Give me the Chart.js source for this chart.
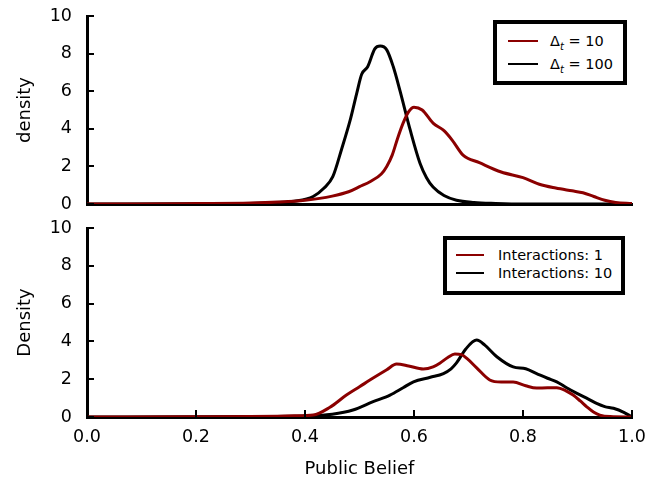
<!DOCTYPE html>
<html>
<head>
<meta charset="utf-8">
<script src="https://cdn.jsdelivr.net/npm/chart.js@4.4.1/dist/chart.umd.min.js"></script>
<style>
  body { margin: 0; background: #fff; font-family: "DejaVu Sans", sans-serif; }
  #wrap { position: relative; width: 665px; height: 482px; }
  canvas { position: absolute; left: 0; top: 0; }
  .legend { position: absolute; border: 4px solid #000; background: #fff; box-sizing: border-box; font-size: 14.5px; color: #000; }
  .row { position: absolute; left: 0; height: 20px; line-height: 20px; white-space: nowrap; }
  .swatch { position: absolute; top: 9px; height: 2px; }
  .lbl { position: absolute; top: 0; }
</style>
</head>
<body>
<div id="wrap">
  <canvas id="topChart" width="665" height="482"></canvas>
  <canvas id="bottomChart" width="665" height="482"></canvas>

  <div class="legend" style="left:493px; top:20px; width:134px; height:65px;">
    <div class="row" style="top:7px;"><span class="swatch" style="left:11px; width:30px; background:#8b0000;"></span><span class="lbl" style="left:53px;">Δ<sub style="font-size:10px; font-style:italic;">t</sub> = 10</span></div>
    <div class="row" style="top:30px;"><span class="swatch" style="left:11px; width:30px; background:#000;"></span><span class="lbl" style="left:53px;">Δ<sub style="font-size:10px; font-style:italic;">t</sub> = 100</span></div>
  </div>

  <div class="legend" style="left:443px; top:236px; width:182px; height:59px;">
    <div class="row" style="top:5px;"><span class="swatch" style="left:9px; width:28px; background:#8b0000;"></span><span class="lbl" style="left:51px;">Interactions: 1</span></div>
    <div class="row" style="top:23px;"><span class="swatch" style="left:9px; width:28px; background:#000;"></span><span class="lbl" style="left:51px;">Interactions: 10</span></div>
  </div>
</div>

<script>
// ---- data ----
const xTickValues = [0, 0.2, 0.4, 0.6, 0.8, 1.0];
const yTickValues = [0, 2, 4, 6, 8, 10];

// top panel: Δt = 10
const dt10X = [0, 0.1, 0.2, 0.3, 0.35, 0.4, 0.45, 0.48, 0.5, 0.52, 0.54, 0.55, 0.56, 0.57, 0.58, 0.59, 0.6, 0.615, 0.635, 0.655, 0.67, 0.69, 0.72, 0.76, 0.8, 0.83, 0.86, 0.89, 0.91, 0.93, 0.95, 0.97, 1.0];
const dt10Y = [0, 0, 0.02, 0.05, 0.1, 0.2, 0.42, 0.65, 0.92, 1.2, 1.6, 2.0, 2.6, 3.5, 4.3, 4.9, 5.15, 5.0, 4.3, 3.9, 3.4, 2.6, 2.2, 1.7, 1.4, 1.05, 0.85, 0.7, 0.6, 0.4, 0.2, 0.08, 0.02];

// top panel: Δt = 100
const dt100X = [0, 0.2, 0.3, 0.35, 0.38, 0.415, 0.435, 0.451, 0.467, 0.483, 0.495, 0.504, 0.515, 0.528, 0.538, 0.55, 0.562, 0.574, 0.593, 0.611, 0.623, 0.635, 0.655, 0.678, 0.71, 0.75, 0.8, 1.0];
const dt100Y = [0, 0.01, 0.03, 0.08, 0.15, 0.4, 0.85, 1.45, 2.9, 4.47, 5.9, 6.9, 7.3, 8.25, 8.4, 8.2, 7.3, 6.06, 3.94, 2.17, 1.4, 0.9, 0.45, 0.2, 0.08, 0.03, 0, 0];

// bottom panel: Interactions 1
const int1X = [0, 0.2, 0.3, 0.35, 0.38, 0.415, 0.445, 0.476, 0.5, 0.525, 0.55, 0.568, 0.59, 0.617, 0.635, 0.648, 0.662, 0.675, 0.687, 0.697, 0.715, 0.739, 0.76, 0.782, 0.805, 0.825, 0.845, 0.862, 0.878, 0.892, 0.905, 0.917, 0.93, 0.941, 0.96, 1.0];
const int1Y = [0, 0.01, 0.02, 0.04, 0.06, 0.1, 0.5, 1.16, 1.6, 2.06, 2.5, 2.8, 2.7, 2.54, 2.65, 2.86, 3.15, 3.33, 3.3, 3.1, 2.6, 1.96, 1.85, 1.85, 1.65, 1.53, 1.55, 1.55, 1.4, 1.16, 0.85, 0.54, 0.25, 0.1, 0.02, 0];

// bottom panel: Interactions 10
const int10X = [0, 0.2, 0.3, 0.4, 0.45, 0.488, 0.525, 0.556, 0.58, 0.599, 0.63, 0.654, 0.668, 0.678, 0.695, 0.715, 0.73, 0.752, 0.782, 0.805, 0.825, 0.845, 0.862, 0.88, 0.899, 0.92, 0.935, 0.95, 0.966, 0.985, 1.0];
const int10Y = [0, 0.01, 0.02, 0.05, 0.15, 0.37, 0.81, 1.16, 1.55, 1.86, 2.1, 2.3, 2.55, 2.86, 3.6, 4.07, 3.8, 3.19, 2.65, 2.55, 2.3, 2.05, 1.86, 1.55, 1.25, 0.95, 0.72, 0.55, 0.46, 0.25, 0];

const RED = "#8b0000";
const TICK_FONT = { family: "'DejaVu Sans', sans-serif", size: 17.5 };
const TITLE_FONT = { family: "'DejaVu Sans', sans-serif", size: 18 };

function pts(xs, ys) {
    return xs.map((x, i) => ({ x: x, y: ys[i] }));
}

function series(label, xs, ys, color) {
    return {
        label: label,
        data: pts(xs, ys),
        borderColor: color,
        borderWidth: 3,
        pointRadius: 0,
        cubicInterpolationMode: "monotone",
        fill: false
    };
}

// inward tick marks, drawn through the scales
const inwardTicks = {
    id: "inwardTicks",
    afterDraw(chart, args, opts) {
        const ctx = chart.ctx;
        const area = chart.chartArea;
        ctx.save();
        ctx.strokeStyle = "#000";
        ctx.lineWidth = 2;
        const ys = chart.scales.y;
        yTickValues.forEach(v => {
            const py = Math.round(ys.getPixelForValue(v));
            ctx.beginPath();
            ctx.moveTo(area.left, py);
            ctx.lineTo(area.left + 7, py);
            ctx.stroke();
        });
        if (opts.xTicks) {
            const xs = chart.scales.x;
            xTickValues.forEach(v => {
                const px = Math.round(xs.getPixelForValue(v));
                ctx.beginPath();
                ctx.moveTo(px, area.bottom);
                ctx.lineTo(px, area.bottom - 7);
                ctx.stroke();
            });
        }
        ctx.restore();
    }
};

function makeChart(canvasId, datasets, cfg) {
    const ctx = document.getElementById(canvasId).getContext("2d");
    return new Chart(ctx, {
        type: "line",
        data: { datasets: datasets },
        plugins: [inwardTicks],
        options: {
            responsive: false,
            animation: false,
            layout: { padding: { left: 0, right: 33, top: cfg.top, bottom: cfg.bottom } },
            plugins: {
                legend: { display: false },
                tooltip: { enabled: false },
                inwardTicks: { xTicks: cfg.xLabels }
            },
            scales: {
                x: {
                    type: "linear",
                    min: 0, max: 1,
                    afterBuildTicks: s => { s.ticks = xTickValues.map(v => ({ value: v })); },
                    afterFit: s => {
                        s.height = cfg.xHeight;
                        s.paddingLeft = 0; s.paddingRight = 0;
                    },
                    grid: { display: false, drawTicks: false },
                    border: { display: true, color: "#000", width: 3 },
                    ticks: {
                        display: cfg.xLabels,
                        color: "#000",
                        font: TICK_FONT,
                        padding: 10,
                        maxRotation: 0,
                        callback: v => v.toFixed(1)
                    },
                    title: {
                        display: cfg.xLabels,
                        text: "Public Belief",
                        color: "#000",
                        font: TITLE_FONT,
                        padding: { top: 0, bottom: 2 }
                    }
                },
                y: {
                    min: 0, max: 10,
                    afterBuildTicks: s => { s.ticks = yTickValues.map(v => ({ value: v })); },
                    afterFit: s => {
                        s.width = 87;
                        s.paddingTop = 0; s.paddingBottom = 0;
                    },
                    grid: { display: false, drawTicks: false },
                    border: { display: true, color: "#000", width: 3 },
                    ticks: { color: "#000", font: TICK_FONT, padding: 15 },
                    title: {
                        display: true,
                        text: cfg.yTitle,
                        color: "#000",
                        font: TITLE_FONT,
                        padding: { top: 15, bottom: 0 }
                    }
                }
            }
        }
    });
}

makeChart("topChart", [
    series("Δt = 10", dt10X, dt10Y, RED),
    series("Δt = 100", dt100X, dt100Y, "#000")
], { top: 16, bottom: 278, xHeight: 0, xLabels: false, yTitle: "density" });

makeChart("bottomChart", [
    series("Interactions: 1", int1X, int1Y, RED),
    series("Interactions: 10", int10X, int10Y, "#000")
], { top: 228, bottom: 0, xHeight: 65, xLabels: true, yTitle: "Density" });
</script>
</body>
</html>
